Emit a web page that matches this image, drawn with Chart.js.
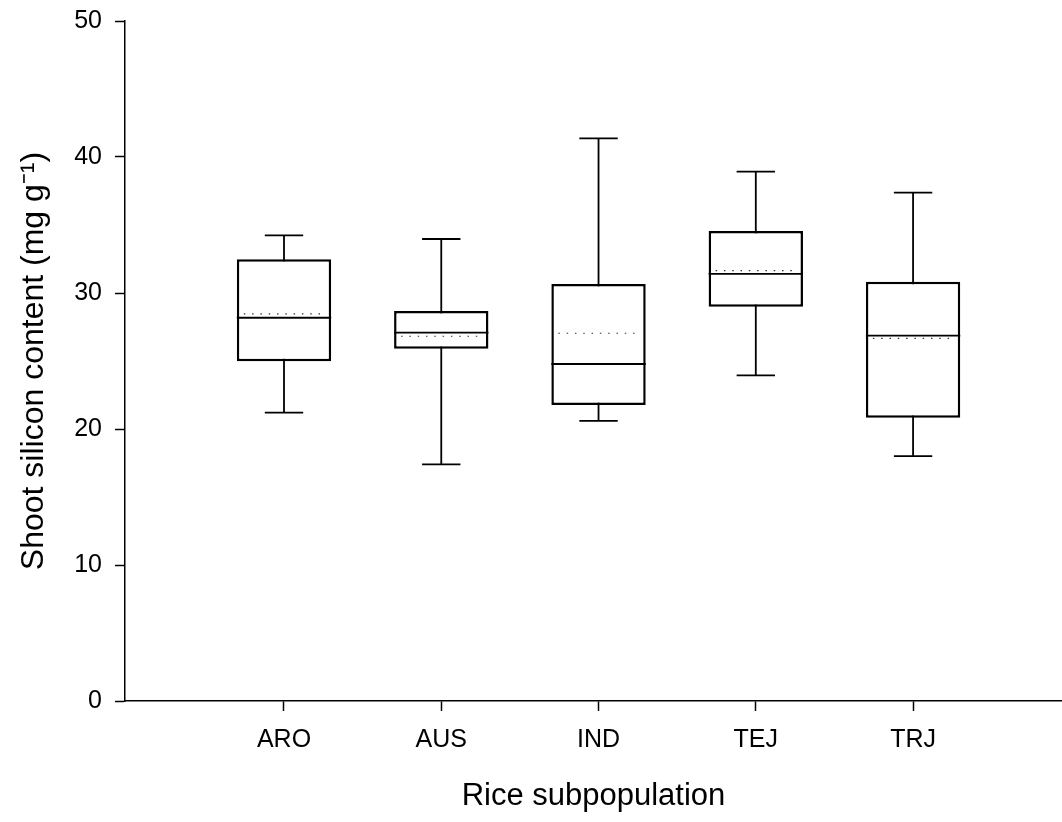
<!DOCTYPE html>
<html lang="en">
<head>
  <meta charset="UTF-8" />
  <title>Shoot silicon content by rice subpopulation</title>
  <script src="https://cdn.jsdelivr.net/npm/chart.js@4.4.0/dist/chart.umd.min.js"></script>
  <style>
    body { margin: 0; background: #fff; }
    canvas { display: block; }
  </style>
</head>
<body>
  <canvas id="boxChart" width="1062" height="822"></canvas>

  <script>
    // data
    const categories = ["ARO", "AUS", "IND", "TEJ", "TRJ"];
    const whiskerLow = [21.2, 17.4, 20.6, 23.95, 18.0];
    const q1 = [24.98, 25.9, 21.76, 28.99, 20.83];
    const median = [28.18, 27.08, 24.78, 31.4, 26.86];
    const q3 = [32.48, 28.68, 30.66, 34.56, 30.83];
    const whiskerHigh = [34.24, 33.97, 41.37, 38.92, 37.38];
    const mean = [28.46, 26.82, 27.04, 31.64, 26.67];
    const yTicks = [0, 10, 20, 30, 40, 50];

    const FONT = "'Liberation Sans', Arial, sans-serif";

    // whiskers + caps go under the boxes, median/mean on top
    const boxExtras = {
      id: "boxExtras",
      beforeDatasetsDraw(chart) {
        const { ctx, scales: { x, y } } = chart;
        ctx.save();
        ctx.strokeStyle = "#000";
        ctx.lineWidth = 1.8;
        categories.forEach((c, i) => {
          const cx = x.getPixelForValue(i + 1);
          const capL = x.getPixelForValue(i + 1 - 0.122);
          const capR = x.getPixelForValue(i + 1 + 0.122);
          const lo = y.getPixelForValue(whiskerLow[i]);
          const hi = y.getPixelForValue(whiskerHigh[i]);
          ctx.beginPath();
          ctx.moveTo(cx, lo); ctx.lineTo(cx, hi);
          ctx.moveTo(capL, lo); ctx.lineTo(capR, lo);
          ctx.moveTo(capL, hi); ctx.lineTo(capR, hi);
          ctx.stroke();
        });
        ctx.restore();
      },
      afterDatasetsDraw(chart) {
        const { ctx, scales: { x, y } } = chart;
        ctx.save();
        categories.forEach((c, i) => {
          const left = x.getPixelForValue(i + 1 - 0.3);
          const right = x.getPixelForValue(i + 1 + 0.3);
          const my = y.getPixelForValue(median[i]);
          ctx.strokeStyle = "#000";
          ctx.lineWidth = 1.8;
          ctx.setLineDash([]);
          ctx.beginPath();
          ctx.moveTo(left, my); ctx.lineTo(right, my);
          ctx.stroke();

          const mn = y.getPixelForValue(mean[i]);
          ctx.strokeStyle = "#333";
          ctx.lineWidth = 1.2;
          ctx.setLineDash([1.5, 6.8]);
          ctx.beginPath();
          ctx.moveTo(left + 7, mn); ctx.lineTo(right - 6, mn);
          ctx.stroke();
        });
        ctx.restore();
      }
    };

    const boxChart = new Chart(document.getElementById("boxChart").getContext("2d"), {
      type: "bar",
      data: {
        datasets: [
          {
            data: categories.map((c, i) => ({ x: i + 1, y: [q1[i], q3[i]] })),
            backgroundColor: "#fff",
            borderColor: "#000",
            borderWidth: 2.5,
            borderSkipped: false,
            categoryPercentage: 1,
            barPercentage: 0.6,
          },
        ],
      },
      options: {
        responsive: false,
        animation: false,
        layout: { padding: { left: 0, top: 21, right: 0, bottom: 0 } },
        plugins: {
          legend: { display: false },
          tooltip: { enabled: false },
        },
        scales: {
          x: {
            type: "linear",
            min: -0.011,
            max: 5.947,
            offset: false,
            afterBuildTicks: (s) => {
              s.ticks = categories.map((c, i) => ({ value: i + 1 }));
            },
            afterFit: (s) => { s.height = 121; s.paddingLeft = 0; s.paddingRight = 0; },
            grid: { offset: false, drawOnChartArea: false, tickLength: 10, tickColor: "#000", tickWidth: 1.5 },
            border: { display: true, color: "#000", width: 1.5 },
            ticks: {
              autoSkip: false,
              maxRotation: 0,
              padding: 14,
              color: "#000",
              font: { family: FONT, size: 25 },
              callback: (v) => categories[v - 1] ?? "",
            },
            title: {
              display: true,
              text: "Rice subpopulation",
              color: "#000",
              font: { family: FONT, size: 31 },
              padding: { top: 0, bottom: 7 },
            },
          },
          y: {
            min: 0,
            max: 50,
            afterBuildTicks: (s) => {
              s.ticks = yTicks.map((v) => ({ value: v }));
            },
            afterFit: (s) => { s.width = 125; s.paddingTop = 0; s.paddingBottom = 0; },
            grid: { drawOnChartArea: false, tickLength: 10, tickColor: "#000", tickWidth: 1.5 },
            border: { display: true, color: "#000", width: 1.5 },
            ticks: {
              padding: 13,
              color: "#000",
              font: { family: FONT, size: 25 },
            },
            title: {
              display: true,
              text: "Shoot silicon content (mg g\u207B\u00B9)",
              color: "#000",
              font: { family: FONT, size: 32 },
              padding: { top: 15, bottom: 0 },
            },
          },
        },
      },
      plugins: [boxExtras],
    });
  </script>
</body>
</html>
